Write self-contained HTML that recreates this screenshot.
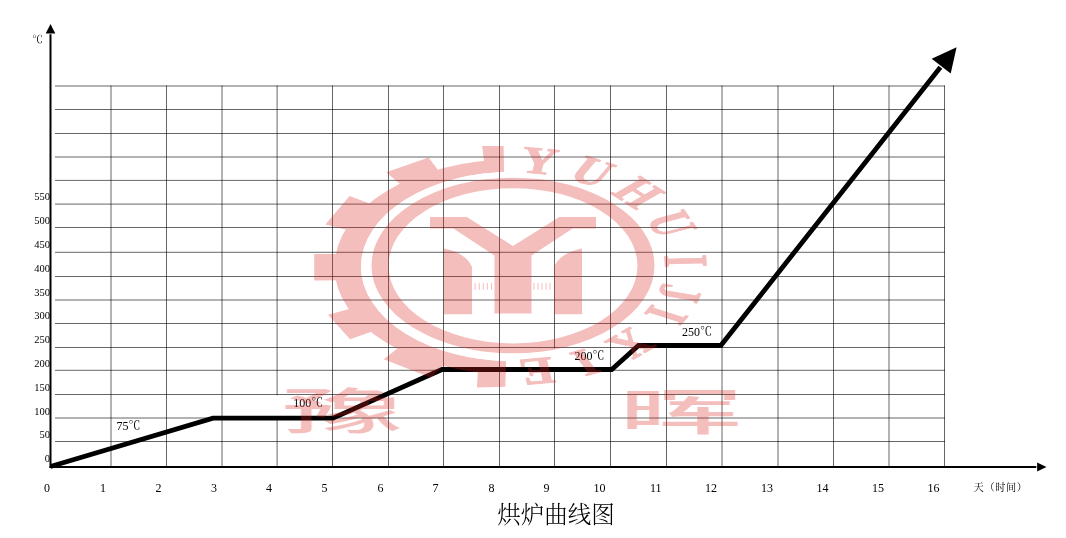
<!DOCTYPE html>
<html lang="zh"><head><meta charset="utf-8"><title>烘炉曲线图</title>
<style>html,body{margin:0;padding:0;background:#fff;overflow:hidden}svg{display:block;will-change:transform}text{font-family:"Liberation Serif","Noto Serif CJK SC",serif}.cj{font-family:"Noto Serif CJK SC",serif}.hei{font-family:"Noto Sans CJK SC",sans-serif;font-weight:500}</style></head><body>
<svg width="1066" height="538" viewBox="0 0 1066 538">
<rect width="1066" height="538" fill="#fff"/>
<g stroke="#000" stroke-opacity="0.6" stroke-width="1" fill="none">
<line x1="55.0" y1="86.0" x2="945.0" y2="86.0"/>
<line x1="55.0" y1="109.5" x2="945.0" y2="109.5"/>
<line x1="55.0" y1="133.5" x2="945.0" y2="133.5"/>
<line x1="55.0" y1="157.0" x2="945.0" y2="157.0"/>
<line x1="55.0" y1="180.4" x2="945.0" y2="180.4"/>
<line x1="55.0" y1="204.1" x2="945.0" y2="204.1"/>
<line x1="55.0" y1="227.5" x2="945.0" y2="227.5"/>
<line x1="55.0" y1="252.3" x2="945.0" y2="252.3"/>
<line x1="55.0" y1="276.5" x2="945.0" y2="276.5"/>
<line x1="55.0" y1="300.0" x2="945.0" y2="300.0"/>
<line x1="55.0" y1="323.5" x2="945.0" y2="323.5"/>
<line x1="55.0" y1="347.5" x2="945.0" y2="347.5"/>
<line x1="55.0" y1="370.3" x2="945.0" y2="370.3"/>
<line x1="55.0" y1="394.5" x2="945.0" y2="394.5"/>
<line x1="55.0" y1="418.0" x2="945.0" y2="418.0"/>
<line x1="55.0" y1="441.5" x2="945.0" y2="441.5"/>
<line x1="111.0" y1="85.5" x2="111.0" y2="467.0"/>
<line x1="166.5" y1="85.5" x2="166.5" y2="467.0"/>
<line x1="222.0" y1="85.5" x2="222.0" y2="467.0"/>
<line x1="277.1" y1="85.5" x2="277.1" y2="467.0"/>
<line x1="332.5" y1="85.5" x2="332.5" y2="467.0"/>
<line x1="388.5" y1="85.5" x2="388.5" y2="467.0"/>
<line x1="443.5" y1="85.5" x2="443.5" y2="467.0"/>
<line x1="499.5" y1="85.5" x2="499.5" y2="467.0"/>
<line x1="554.5" y1="85.5" x2="554.5" y2="467.0"/>
<line x1="610.5" y1="85.5" x2="610.5" y2="467.0"/>
<line x1="666.5" y1="85.5" x2="666.5" y2="467.0"/>
<line x1="722.0" y1="85.5" x2="722.0" y2="467.0"/>
<line x1="778.0" y1="85.5" x2="778.0" y2="467.0"/>
<line x1="833.5" y1="85.5" x2="833.5" y2="467.0"/>
<line x1="889.0" y1="85.5" x2="889.0" y2="467.0"/>
<line x1="944.5" y1="85.5" x2="944.5" y2="467.0"/>
</g>
<line x1="50.5" y1="468.0" x2="50.5" y2="34.3" stroke="#000" stroke-width="2"/>
<polygon points="50.5,24 45.7,33.5 55.3,33.5" fill="#000"/>
<line x1="49.5" y1="467.0" x2="1036.3" y2="467.0" stroke="#000" stroke-width="2"/>
<polygon points="1046.5,467.0 1037.1,462.4 1037.1,471.6" fill="#000"/>
<g fill="#fff"><rect x="262" y="395.3" width="62" height="21"/><rect x="545" y="348.3" width="61" height="19.5"/><rect x="655" y="324.3" width="61" height="19.5"/></g>
<polyline points="50.5,466.5 213,418.2 333,418.2 442,369.5 611.7,369.5 638.5,345.5 720.8,345.5 940.4,67.2" fill="none" stroke="#000" stroke-width="4.8" stroke-linejoin="miter" stroke-miterlimit="10"/>
<polygon points="956.6,47.3 931.7,58.8 950.7,73.5" fill="#000"/>
<g font-size="10.5" text-anchor="end">
<text x="50" y="462.1">0</text>
<text x="50" y="438.3">50</text>
<text x="50" y="414.5">100</text>
<text x="50" y="390.7">150</text>
<text x="50" y="366.9">200</text>
<text x="50" y="343.1">250</text>
<text x="50" y="319.3">300</text>
<text x="50" y="295.5">350</text>
<text x="50" y="271.7">400</text>
<text x="50" y="247.9">450</text>
<text x="50" y="224.1">500</text>
<text x="50" y="200.3">550</text>
</g>
<g font-size="12" text-anchor="end">
<text x="50.0" y="492.3">0</text>
<text x="106.0" y="492.3">1</text>
<text x="161.5" y="492.3">2</text>
<text x="217.0" y="492.3">3</text>
<text x="272.1" y="492.3">4</text>
<text x="327.5" y="492.3">5</text>
<text x="383.5" y="492.3">6</text>
<text x="438.5" y="492.3">7</text>
<text x="494.5" y="492.3">8</text>
<text x="549.5" y="492.3">9</text>
<text x="605.5" y="492.3">10</text>
<text x="661.5" y="492.3">11</text>
<text x="717.0" y="492.3">12</text>
<text x="773.0" y="492.3">13</text>
<text x="828.5" y="492.3">14</text>
<text x="884.0" y="492.3">15</text>
<text x="939.5" y="492.3">16</text>
</g>
<text class="cj" x="973.6" y="490.6" font-size="10.2" letter-spacing="0.6">天（时间）</text>
<text x="32.2" y="42.6" font-size="10.5">℃</text>
<g font-size="12">
<text x="116.5" y="430">75℃</text>
<text x="293.2" y="406.7">100℃</text>
<text x="574.5" y="360.2">200℃</text>
<text x="682" y="335.8">250℃</text>
</g>
<text class="cj" x="556" y="522.6" font-size="23.5" text-anchor="middle" font-weight="300">烘炉曲线图</text>
<g opacity="0.3" fill="rgb(215,38,33)">
<defs><clipPath id="gc"><path d="M0,0H503.8V176H505.8V538H0Z"/></clipPath><clipPath id="gi"><path clip-rule="evenodd" d="M0,0H1066V538H0ZM665.00,266.50A152,94.8 0 1,0 361.00,266.50A152,94.8 0 1,0 665.00,266.50Z"/></clipPath></defs>
<path fill-rule="evenodd" d="M654.50,265.50A141.5,87.8 0 1,0 371.50,265.50A141.5,87.8 0 1,0 654.50,265.50ZM637.50,265.80A124.5,77.6 0 1,0 388.50,265.80A124.5,77.6 0 1,0 637.50,265.80Z"/>
<g clip-path="url(#gc)"><g clip-path="url(#gi)">
<path fill-rule="evenodd" d="M691.50,267.00A178.5,107.5 0 1,0 334.50,267.00A178.5,107.5 0 1,0 691.50,267.00ZM665.00,266.50A152,94.8 0 1,0 361.00,266.50A152,94.8 0 1,0 665.00,266.50Z"/>
<polygon points="482.2,146.1 503.8,146.1 504.4,184.8 485.4,173.2"/>
<polygon points="428.6,157.5 386.2,172.3 406.5,189.5 444.4,178.8"/>
<polygon points="349.6,196.0 325.4,224.6 354.5,231.7 381.0,207.8"/>
<polygon points="314.2,254.0 314.2,280.6 348.7,280.2 348.7,254.1"/>
<polygon points="328.0,314.7 350.1,339.3 381.9,328.0 356.7,307.1"/>
<polygon points="383.7,359.3 431.0,377.8 451.3,357.6 405.8,342.0"/>
<polygon points="476.9,387.4 505.3,386.8 506.7,349.2 478.7,359.9"/>
</g></g>
<polygon points="430,217 466.8,217 513,246 559.2,217 596,217 596,228.6 572.6,228.6 531.5,255.5 531.5,313.6 494.5,313.6 494.5,255.5 453.4,228.6 430,228.6"/>
<path d="M444,248.5 Q466,253 472,267 L472,314.2 L444,314.2Z"/>
<path d="M582,248.5 Q560,253 554,267 L554,314.2 L582,314.2Z"/>
<rect x="474.6" y="283" width="1" height="6.8"/>
<rect x="478.8" y="283" width="1" height="6.8"/>
<rect x="482.8" y="283" width="1" height="6.8"/>
<rect x="486.8" y="283" width="1" height="6.8"/>
<rect x="491.0" y="283" width="1" height="6.8"/>
<rect x="533.5" y="283" width="1" height="6.8"/>
<rect x="537.5" y="283" width="1" height="6.8"/>
<rect x="541.5" y="283" width="1" height="6.8"/>
<rect x="545.5" y="283" width="1" height="6.8"/>
<rect x="549.5" y="283" width="1" height="6.8"/>
<g transform="translate(513.0,266.0) scale(1,0.615)" stroke="rgb(215,38,33)" stroke-width="1.6" stroke-linejoin="round">
<text transform="rotate(8.7) translate(0,-152.3) scale(0.82,1)" text-anchor="middle" font-size="62" font-weight="bold">Y</text>
<text transform="rotate(27.4) translate(0,-152.3) scale(0.82,1)" text-anchor="middle" font-size="62" font-weight="bold">U</text>
<text transform="rotate(46.5) translate(0,-152.3) scale(0.82,1)" text-anchor="middle" font-size="62" font-weight="bold">H</text>
<text transform="rotate(66.6) translate(0,-152.3) scale(0.82,1)" text-anchor="middle" font-size="62" font-weight="bold">U</text>
<text transform="rotate(87.3) translate(0,-152.3) scale(0.82,1)" text-anchor="middle" font-size="62" font-weight="bold">I</text>
<text transform="rotate(104.9) translate(0,-152.3) scale(0.82,1)" text-anchor="middle" font-size="62" font-weight="bold">J</text>
<text transform="rotate(117.5) translate(0,-152.3) scale(0.82,1)" text-anchor="middle" font-size="62" font-weight="bold">I</text>
<text transform="rotate(136.9) translate(0,-152.3) scale(0.82,1)" text-anchor="middle" font-size="62" font-weight="bold">X</text>
<text transform="rotate(155.2) translate(0,-152.3) scale(0.82,1)" text-anchor="middle" font-size="62" font-weight="bold">I</text>
<text transform="rotate(172.0) translate(0,-152.3) scale(0.82,1)" text-anchor="middle" font-size="62" font-weight="bold">E</text>
</g>
<text class="hei" transform="translate(342.7,429.4) scale(2.47,1)" text-anchor="middle" font-size="49">豫</text>
<text class="hei" transform="translate(680.7,429.8) scale(2.49,1)" text-anchor="middle" font-size="49.8">晖</text>
</g>
</svg></body></html>
